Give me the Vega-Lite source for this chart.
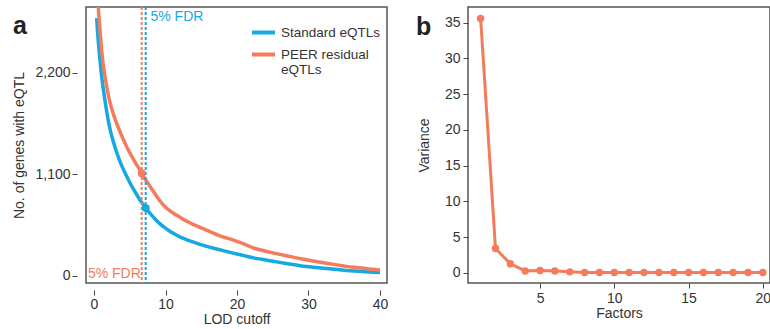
{
  "$schema": "https://vega.github.io/schema/vega-lite/v6.json",
  "background": "white",
  "autosize": {"type": "none"},
  "padding": {"left": 86, "top": 7, "right": 684, "bottom": 322},
  "bounds": "flush",
  "spacing": 81,
  "config": {
    "font": "Liberation Sans",
    "view": {"stroke": "#555", "strokeWidth": 1.5},
    "axis": {
      "domain": false, "grid": false, "tickSize": 5, "tickColor": "#444", "tickWidth": 1,
      "labelFont": "Liberation Sans", "labelFontSize": 14, "labelColor": "#333",
      "titleFont": "Liberation Sans", "titleFontSize": 14, "titleFontWeight": "normal", "titleColor": "#333"
    }
  },
  "datasets": {
    "curves": [
      {"lod": 0.37, "genes": 2790, "series": "Standard eQTLs"},
      {"lod": 0.5, "genes": 2640, "series": "Standard eQTLs"},
      {"lod": 0.7, "genes": 2450, "series": "Standard eQTLs"},
      {"lod": 0.84, "genes": 2338, "series": "Standard eQTLs"},
      {"lod": 1.0, "genes": 2210, "series": "Standard eQTLs"},
      {"lod": 1.2, "genes": 2080, "series": "Standard eQTLs"},
      {"lod": 1.45, "genes": 1941, "series": "Standard eQTLs"},
      {"lod": 1.8, "genes": 1770, "series": "Standard eQTLs"},
      {"lod": 2.1, "genes": 1640, "series": "Standard eQTLs"},
      {"lod": 2.38, "genes": 1544, "series": "Standard eQTLs"},
      {"lod": 2.8, "genes": 1429, "series": "Standard eQTLs"},
      {"lod": 3.2, "genes": 1331, "series": "Standard eQTLs"},
      {"lod": 3.78, "genes": 1210, "series": "Standard eQTLs"},
      {"lod": 4.43, "genes": 1100, "series": "Standard eQTLs"},
      {"lod": 5.0, "genes": 1012, "series": "Standard eQTLs"},
      {"lod": 5.5, "genes": 942, "series": "Standard eQTLs"},
      {"lod": 6.0, "genes": 877, "series": "Standard eQTLs"},
      {"lod": 6.43, "genes": 823, "series": "Standard eQTLs"},
      {"lod": 6.9, "genes": 770, "series": "Standard eQTLs"},
      {"lod": 7.27, "genes": 732, "series": "Standard eQTLs"},
      {"lod": 8.0, "genes": 663, "series": "Standard eQTLs"},
      {"lod": 8.5, "genes": 620, "series": "Standard eQTLs"},
      {"lod": 9.2, "genes": 567, "series": "Standard eQTLs"},
      {"lod": 9.8, "genes": 528, "series": "Standard eQTLs"},
      {"lod": 10.5, "genes": 490, "series": "Standard eQTLs"},
      {"lod": 11.2, "genes": 456, "series": "Standard eQTLs"},
      {"lod": 12.0, "genes": 424, "series": "Standard eQTLs"},
      {"lod": 12.6, "genes": 404, "series": "Standard eQTLs"},
      {"lod": 13.5, "genes": 377, "series": "Standard eQTLs"},
      {"lod": 14.5, "genes": 350, "series": "Standard eQTLs"},
      {"lod": 15.5, "genes": 327, "series": "Standard eQTLs"},
      {"lod": 16.5, "genes": 305, "series": "Standard eQTLs"},
      {"lod": 17.6, "genes": 284, "series": "Standard eQTLs"},
      {"lod": 18.6, "genes": 264, "series": "Standard eQTLs"},
      {"lod": 19.6, "genes": 245, "series": "Standard eQTLs"},
      {"lod": 20.5, "genes": 229, "series": "Standard eQTLs"},
      {"lod": 21.5, "genes": 211, "series": "Standard eQTLs"},
      {"lod": 22.3, "genes": 196, "series": "Standard eQTLs"},
      {"lod": 23.5, "genes": 180, "series": "Standard eQTLs"},
      {"lod": 25.0, "genes": 160, "series": "Standard eQTLs"},
      {"lod": 26.9, "genes": 135, "series": "Standard eQTLs"},
      {"lod": 28.5, "genes": 116, "series": "Standard eQTLs"},
      {"lod": 29.7, "genes": 103, "series": "Standard eQTLs"},
      {"lod": 31.0, "genes": 92, "series": "Standard eQTLs"},
      {"lod": 32.5, "genes": 80, "series": "Standard eQTLs"},
      {"lod": 34.0, "genes": 69, "series": "Standard eQTLs"},
      {"lod": 35.3, "genes": 60, "series": "Standard eQTLs"},
      {"lod": 37.0, "genes": 50, "series": "Standard eQTLs"},
      {"lod": 38.5, "genes": 43, "series": "Standard eQTLs"},
      {"lod": 40.0, "genes": 37, "series": "Standard eQTLs"},
      {"lod": 0.5, "genes": 3050, "series": "PEER residual eQTLs"},
      {"lod": 0.6, "genes": 2910, "series": "PEER residual eQTLs"},
      {"lod": 0.75, "genes": 2750, "series": "PEER residual eQTLs"},
      {"lod": 0.9, "genes": 2600, "series": "PEER residual eQTLs"},
      {"lod": 1.05, "genes": 2460, "series": "PEER residual eQTLs"},
      {"lod": 1.21, "genes": 2338, "series": "PEER residual eQTLs"},
      {"lod": 1.4, "genes": 2230, "series": "PEER residual eQTLs"},
      {"lod": 1.6, "genes": 2130, "series": "PEER residual eQTLs"},
      {"lod": 1.8, "genes": 2040, "series": "PEER residual eQTLs"},
      {"lod": 2.05, "genes": 1941, "series": "PEER residual eQTLs"},
      {"lod": 2.4, "genes": 1830, "series": "PEER residual eQTLs"},
      {"lod": 2.8, "genes": 1730, "series": "PEER residual eQTLs"},
      {"lod": 3.3, "genes": 1625, "series": "PEER residual eQTLs"},
      {"lod": 3.78, "genes": 1535, "series": "PEER residual eQTLs"},
      {"lod": 4.2, "genes": 1460, "series": "PEER residual eQTLs"},
      {"lod": 4.66, "genes": 1385, "series": "PEER residual eQTLs"},
      {"lod": 5.1, "genes": 1320, "series": "PEER residual eQTLs"},
      {"lod": 5.5, "genes": 1265, "series": "PEER residual eQTLs"},
      {"lod": 5.9, "genes": 1212, "series": "PEER residual eQTLs"},
      {"lod": 6.34, "genes": 1158, "series": "PEER residual eQTLs"},
      {"lod": 6.67, "genes": 1111, "series": "PEER residual eQTLs"},
      {"lod": 7.0, "genes": 1065, "series": "PEER residual eQTLs"},
      {"lod": 7.5, "genes": 1008, "series": "PEER residual eQTLs"},
      {"lod": 8.0, "genes": 950, "series": "PEER residual eQTLs"},
      {"lod": 8.5, "genes": 893, "series": "PEER residual eQTLs"},
      {"lod": 9.1, "genes": 825, "series": "PEER residual eQTLs"},
      {"lod": 9.8, "genes": 760, "series": "PEER residual eQTLs"},
      {"lod": 10.5, "genes": 712, "series": "PEER residual eQTLs"},
      {"lod": 11.2, "genes": 674, "series": "PEER residual eQTLs"},
      {"lod": 12.0, "genes": 637, "series": "PEER residual eQTLs"},
      {"lod": 12.6, "genes": 608, "series": "PEER residual eQTLs"},
      {"lod": 13.5, "genes": 572, "series": "PEER residual eQTLs"},
      {"lod": 14.5, "genes": 537, "series": "PEER residual eQTLs"},
      {"lod": 15.5, "genes": 505, "series": "PEER residual eQTLs"},
      {"lod": 16.5, "genes": 470, "series": "PEER residual eQTLs"},
      {"lod": 17.6, "genes": 435, "series": "PEER residual eQTLs"},
      {"lod": 18.6, "genes": 410, "series": "PEER residual eQTLs"},
      {"lod": 19.6, "genes": 386, "series": "PEER residual eQTLs"},
      {"lod": 20.5, "genes": 360, "series": "PEER residual eQTLs"},
      {"lod": 21.5, "genes": 328, "series": "PEER residual eQTLs"},
      {"lod": 22.3, "genes": 303, "series": "PEER residual eQTLs"},
      {"lod": 23.5, "genes": 278, "series": "PEER residual eQTLs"},
      {"lod": 25.0, "genes": 250, "series": "PEER residual eQTLs"},
      {"lod": 26.9, "genes": 218, "series": "PEER residual eQTLs"},
      {"lod": 28.5, "genes": 193, "series": "PEER residual eQTLs"},
      {"lod": 29.7, "genes": 175, "series": "PEER residual eQTLs"},
      {"lod": 31.0, "genes": 157, "series": "PEER residual eQTLs"},
      {"lod": 32.5, "genes": 138, "series": "PEER residual eQTLs"},
      {"lod": 34.0, "genes": 120, "series": "PEER residual eQTLs"},
      {"lod": 35.3, "genes": 104, "series": "PEER residual eQTLs"},
      {"lod": 37.0, "genes": 89, "series": "PEER residual eQTLs"},
      {"lod": 38.5, "genes": 76, "series": "PEER residual eQTLs"},
      {"lod": 40.0, "genes": 65, "series": "PEER residual eQTLs"}
    ],
    "fdr": [
      {"lod": 6.67, "genes": 1111, "series": "PEER residual eQTLs"},
      {"lod": 7.23, "genes": 735, "series": "Standard eQTLs"}
    ],
    "notes": [
      {"lod": 7.9, "genes": 2800, "label": "5% FDR", "series": "Standard eQTLs"},
      {"lod": -0.85, "genes": 22, "label": "5% FDR", "series": "PEER residual eQTLs"}
    ],
    "variance": [
      {"factor": 1, "variance": 35.6},
      {"factor": 2, "variance": 3.4},
      {"factor": 3, "variance": 1.25},
      {"factor": 4, "variance": 0.25},
      {"factor": 5, "variance": 0.32},
      {"factor": 6, "variance": 0.25},
      {"factor": 7, "variance": 0.12},
      {"factor": 8, "variance": 0.04},
      {"factor": 9, "variance": 0.03},
      {"factor": 10, "variance": 0.03},
      {"factor": 11, "variance": 0.02},
      {"factor": 12, "variance": 0.02},
      {"factor": 13, "variance": 0.02},
      {"factor": 14, "variance": 0.02},
      {"factor": 15, "variance": 0.02},
      {"factor": 16, "variance": 0.02},
      {"factor": 17, "variance": 0.02},
      {"factor": 18, "variance": 0.02},
      {"factor": 19, "variance": 0.02},
      {"factor": 20, "variance": 0.02}
    ]
  },
  "hconcat": [
    {
      "width": 301,
      "height": 276,
      "title": {"text": "a", "anchor": "start", "frame": "group", "fontSize": 25, "fontWeight": "bold", "color": "#222", "dx": -73, "dy": 53, "baseline": "alphabetic", "offset": 0},
      "layer": [
        {
          "data": {"name": "curves"},
          "mark": {"type": "line", "strokeWidth": 3.5, "clip": true, "interpolate": "monotone"},
          "encoding": {
            "x": {"field": "lod", "type": "quantitative", "scale": {"domain": [-1.12, 40.98], "nice": false, "zero": false},
              "axis": {"title": "LOD cutoff", "values": [0, 10, 20, 30, 40], "offset": 7, "labelPadding": 2, "titlePadding": 1}},
            "y": {"field": "genes", "type": "quantitative", "scale": {"domain": [-76, 2911], "nice": false},
              "axis": {"title": "No. of genes with eQTL", "values": [0, 1100, 2200], "format": ",.0f", "offset": 9, "labelPadding": 2, "titlePadding": 8}},
            "color": {"field": "series", "type": "nominal",
              "scale": {"domain": ["Standard eQTLs", "PEER residual eQTLs"], "range": ["#16a8e0", "#f47c5c"]},
              "legend": {"orient": "none", "legendX": 164, "legendY": 12, "title": null, "symbolType": "stroke", "symbolStrokeWidth": 4, "symbolSize": 529, "labelFontSize": 13.5, "labelColor": "#333", "labelFont": "Liberation Sans", "rowPadding": -9, "labelOffset": 4,
                "labelExpr": "datum.value == 'PEER residual eQTLs' ? ['PEER residual', 'eQTLs'] : datum.label"}}
          }
        },
        {
          "data": {"name": "fdr"},
          "mark": {"type": "rule", "strokeWidth": 2, "strokeDash": [3, 2]},
          "encoding": {
            "x": {"field": "lod", "type": "quantitative"},
            "color": {"field": "series", "type": "nominal"}
          }
        },
        {
          "data": {"name": "fdr"},
          "mark": {"type": "point", "filled": true, "size": 64, "opacity": 1},
          "encoding": {
            "x": {"field": "lod", "type": "quantitative"},
            "y": {"field": "genes", "type": "quantitative"},
            "color": {"field": "series", "type": "nominal"}
          }
        },
        {
          "data": {"name": "notes"},
          "mark": {"type": "text", "align": "left", "baseline": "middle", "fontSize": 14, "font": "Liberation Sans"},
          "encoding": {
            "x": {"field": "lod", "type": "quantitative"},
            "y": {"field": "genes", "type": "quantitative"},
            "text": {"field": "label"},
            "color": {"field": "series", "type": "nominal"}
          }
        }
      ]
    },
    {
      "width": 302,
      "height": 276,
      "title": {"text": "b", "anchor": "start", "frame": "group", "fontSize": 25, "fontWeight": "bold", "color": "#222", "dx": -52, "dy": 53, "baseline": "alphabetic", "offset": 0},
      "data": {"name": "variance"},
      "mark": {"type": "line", "color": "#f47c5c", "strokeWidth": 3, "point": {"filled": true, "size": 55, "color": "#f47c5c", "opacity": 1}},
      "encoding": {
        "x": {"field": "factor", "type": "quantitative", "scale": {"domain": [0.15, 20.48], "nice": false, "zero": false},
          "axis": {"title": "Factors", "values": [5, 10, 15, 20], "labelPadding": 3, "titlePadding": 1}},
        "y": {"field": "variance", "type": "quantitative", "scale": {"domain": [-1.44, 37.2], "nice": false, "zero": false},
          "axis": {"title": "Variance", "values": [0, 5, 10, 15, 20, 25, 30, 35], "labelPadding": 3, "titlePadding": 13}}
      }
    }
  ]
}
